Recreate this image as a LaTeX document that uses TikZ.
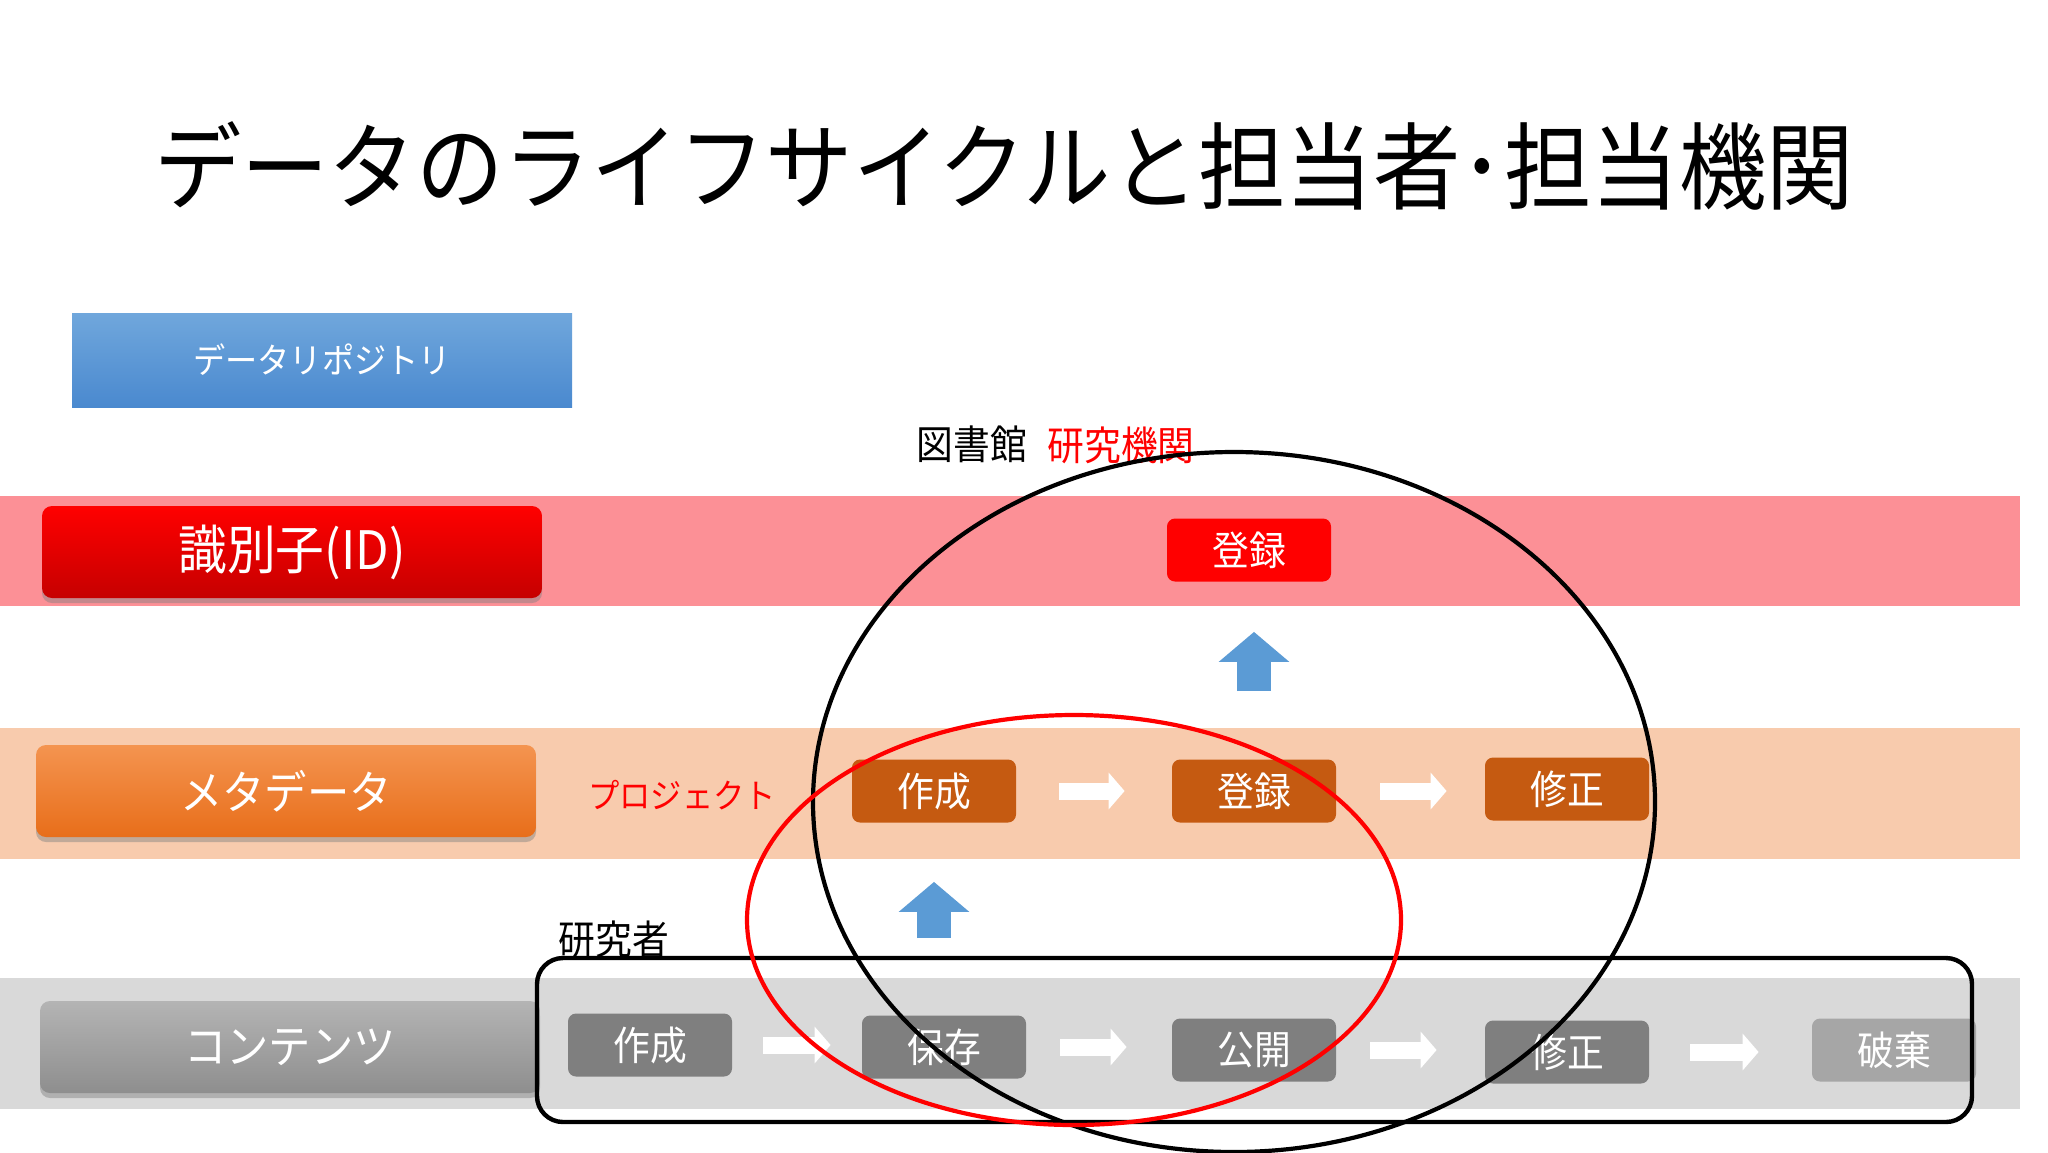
\documentclass[tikz,border=0pt]{standalone}
\usepackage{fontspec}
\setmainfont{Noto Sans CJK JP}[FakeStretch=0.92]
\usetikzlibrary{arrows.meta,shadows}

\definecolor{bandred}{RGB}{252,144,150}
\definecolor{bandorange}{RGB}{248,203,173}
\definecolor{bandgray}{RGB}{217,217,217}
\definecolor{repotop}{RGB}{112,167,220}
\definecolor{repobot}{RGB}{74,137,207}
\definecolor{idtop}{RGB}{255,0,0}
\definecolor{idbot}{RGB}{198,0,0}
\definecolor{metatop}{RGB}{244,148,80}
\definecolor{metabot}{RGB}{232,110,26}
\definecolor{conttop}{RGB}{180,180,180}
\definecolor{contbot}{RGB}{142,142,142}
\definecolor{metabrown}{RGB}{197,90,17}
\definecolor{stagegray}{RGB}{127,127,127}
\definecolor{stagelight}{RGB}{166,166,166}
\definecolor{liftblue}{RGB}{91,155,213}

\begin{document}
\begin{tikzpicture}[x=0.5pt,y=-0.5pt,
  layer/.style={minimum width=250pt, minimum height=46pt, rounded corners=5pt,
    text=white, font=\fontsize{23}{23}\selectfont,
    drop shadow={shadow xshift=0pt, shadow yshift=-2.5pt, opacity=0.45}},
  stage/.style={minimum width=82pt, minimum height=31.5pt, rounded corners=4pt,
    inner sep=0pt, text=white, font=\fontsize{20}{20}\selectfont},
  flow/.style={white, line width=8.5pt, -{Triangle[length=8pt,width=18pt]}},
  lift/.style={liftblue, line width=17pt, -{Triangle[length=15pt,width=34.5pt]}},
  note/.style={inner sep=0pt, font=\fontsize{20}{20}\selectfont}]

  \useasboundingbox (0,0) rectangle (2048,1152);
  \fill[white] (0,0) rectangle (2048,1152);

  \fill[bandred] (0,496) rectangle (2020,606);
  \fill[bandorange] (0,728) rectangle (2020,859);
  \fill[bandgray] (0,978) rectangle (2020,1109);

  \node[font=\fontsize{47.5}{47.5}\selectfont] (title) at (1004,166) {データのライフサイクルと担当者･担当機関};

  \node[minimum width=250pt, minimum height=47pt, top color=repotop, bottom color=repobot,
    text=white, font=\fontsize{17.5}{17.5}\selectfont] (repo) at (322,360) {データリポジトリ};
  \node[layer, top color=idtop, bottom color=idbot, font=\fontsize{26.5}{26.5}\selectfont] (id) at (292,552) {識別子(ID)};
  \node[layer, top color=metatop, bottom color=metabot] (meta) at (286,791) {メタデータ};
  \node[layer, top color=conttop, bottom color=contbot] (cont) at (290,1047) {コンテンツ};

  \node[stage, fill=red] (idreg) at (1249,550) {登録};
  \foreach \nm/\x/\y/\t in {mcreate/934/791/作成, mreg/1254/791/登録, mfix/1567/789/修正}
    \node[stage, fill=metabrown] (\nm) at (\x,\y) {\t};
  \foreach \nm/\x/\y/\t in {ccreate/650/1045/作成, csave/944/1047/保存, cpub/1254/1050/公開, cfix/1567/1052/修正}
    \node[stage, fill=stagegray] (\nm) at (\x,\y) {\t};
  \node[stage, fill=stagelight] (cdel) at (1894,1050) {破棄};

  \foreach \a/\b/\s/\e in {mcreate/mreg/21.5/23.5, mreg/mfix/22/19, ccreate/csave/15.5/15.5,
      csave/cpub/17/22.5, cpub/cfix/17/24, cfix/cdel/20.5/26.5}
    \draw[flow, shorten <=\s pt, shorten >=\e pt] (\a.east) -- (\a.east -| \b.west);

  \draw[lift, shorten <=34pt, shorten >=25pt] (mreg.north) -- (mreg.north |- idreg.south);
  \draw[lift, shorten <=38.5pt, shorten >=29.5pt] (mcreate.south |- csave.north) -- (mcreate.south);

  \node[note] (lib) at (972,444) {図書館};
  \node[note, text=red] (inst) at (1121,445) {研究機関};
  \node[note, text=red, font=\fontsize{17}{17}\selectfont] (proj) at (682,795) {プロジェクト};
  \node[note] (res) at (614,939) {研究者};

  \draw[line width=2.2pt, rounded corners=13pt] (537,958) rectangle (1972,1122);
  \draw[line width=2.1pt] (1234,802) ellipse [x radius=421, y radius=350];
  \draw[red, line width=2.1pt] (1074,920) ellipse [x radius=327, y radius=205];

\end{tikzpicture}
\end{document}
